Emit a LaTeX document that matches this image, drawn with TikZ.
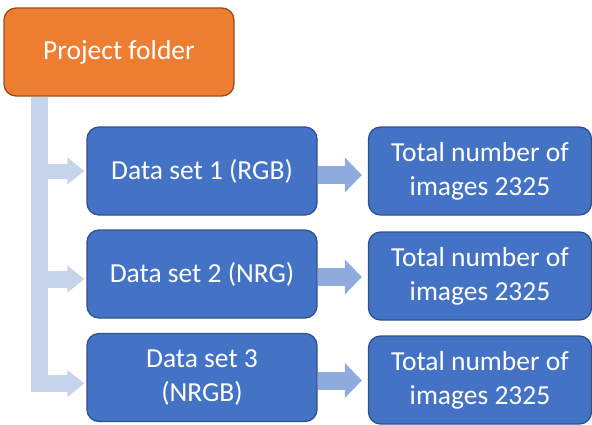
\documentclass[tikz,border=0pt]{standalone}
\usepackage{fontspec}
\setmainfont{Carlito}
\usetikzlibrary{arrows.meta}

\definecolor{folderorange}{HTML}{ED7D31}
\definecolor{folderedge}{HTML}{9A4E1E}
\definecolor{setblue}{HTML}{4472C4}
\definecolor{setedge}{HTML}{2F528F}
\definecolor{barblue}{HTML}{C5D4EA}
\definecolor{flowblue}{HTML}{8FAADC}

\begin{document}
\begin{tikzpicture}[x=1pt, y=-1pt,
    box/.style={draw=setedge, fill=setblue, line width=1.3pt, rounded corners=12pt,
        text=white, align=center, inner sep=0pt, minimum width=230pt,
        minimum height=88pt, font=\fontsize{27.5}{34}\selectfont},
    elbow/.style={barblue, line width=17pt, shorten >=2pt,
        -{Triangle[length=17pt, width=26pt]}},
    flow/.style={flowblue, line width=18pt, shorten >=6pt,
        -{Triangle[length=17pt, width=34pt]}}]
        \useasboundingbox (0, 0) rectangle (592, 424);

        % nodes folder, sets
        \node[box, draw=folderedge, fill=folderorange] (folder) at (119, 52) {Project folder};
        \node[box] (set1) at (202, 171) {Data set 1 (RGB)};
        \node[box] (set2) at (202, 274) {Data set 2 (NRG)};
        \node[box] (set3) at (202, 377.5) {Data set 3\\(NRGB)};

        % nodes totals
        \node[box, minimum width=223pt] (total1) at (480, 171) {Total number of\\images 2325};
        \node[box, minimum width=223pt] (total2) at (480, 276) {Total number of\\images 2325};
        \node[box, minimum width=223pt] (total3) at (480, 380) {Total number of\\images 2325};

        % edges folder -> sets
        \draw[elbow] ([xshift=36.5pt]folder.south west) |- ([yshift=-6pt]set3.west);
        \draw[elbow] ([xshift=36.5pt]folder.south west) |- ([yshift=-5pt]set2.west);
        \draw[elbow, line width=15pt] ([xshift=36.5pt]folder.south west) |- (set1.west);

        % edges sets -> totals
        \draw[flow] ([yshift=-4pt]set1.east) -- ([yshift=-4pt]set1.east -| total1.west);
        \draw[flow] ([yshift=-3pt]set2.east) -- ([yshift=-3pt]set2.east -| total2.west);
        \draw[flow] ([yshift=-3pt]set3.east) -- ([yshift=-3pt]set3.east -| total3.west);
    \end{tikzpicture}
\end{document}
